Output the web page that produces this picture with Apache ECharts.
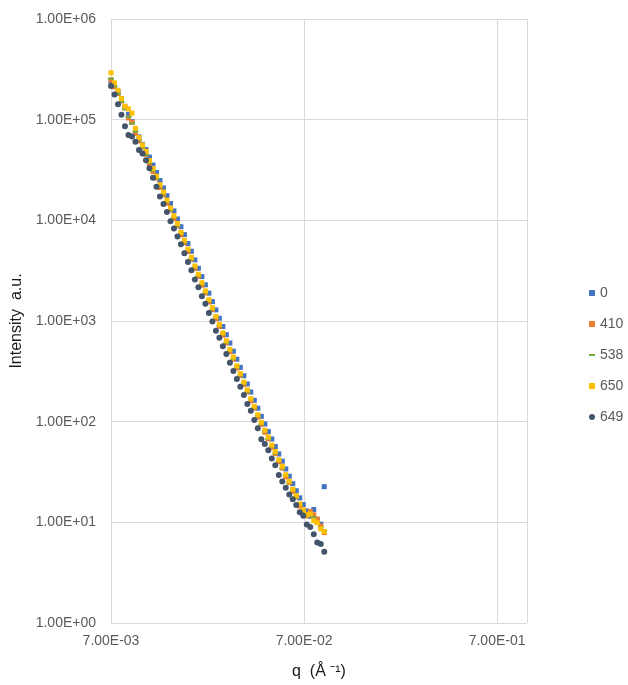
<!DOCTYPE html>
<html>
<head>
<meta charset="utf-8">
<script src="https://cdn.jsdelivr.net/npm/echarts@6/dist/echarts.min.js"></script>
<style>
  html, body { margin: 0; padding: 0; background: #fff; }
  #main { width: 628px; height: 685px; }
</style>
</head>
<body>
<div id="main"></div>
<script>
// q grid (1/Å), shared by all runs
const qValues = [
  0.00700, 0.00730, 0.00761, 0.00793, 0.00827, 0.00862, 0.00899, 0.00937, 0.00977, 0.01019,
  0.01062, 0.01107, 0.01155, 0.01204, 0.01255, 0.01309, 0.01364, 0.01423, 0.01483, 0.01546,
  0.01612, 0.01680, 0.01752, 0.01826, 0.01904, 0.01985, 0.02070, 0.02158, 0.02250, 0.02346,
  0.02446, 0.02549, 0.02658, 0.02771, 0.02889, 0.03012, 0.03140, 0.03274, 0.03414, 0.03559,
  0.03710, 0.03868, 0.04033, 0.04205, 0.04384, 0.04571, 0.04765, 0.04968, 0.05180, 0.05401,
  0.05629, 0.05869, 0.06119, 0.06380, 0.06652, 0.06935, 0.07230, 0.07538, 0.07859, 0.08194,
  0.08543, 0.08907
]

// intensity per run
const int0 = [
  240000, 226000, 190000, 162000, 134000, 113000, 95500, 80000, 67500, 56800,
  50500, 42500, 35400, 29900, 24900, 21000, 17600, 14700, 12400, 10300,
  8640, 7210, 5890, 4930, 4050, 3340, 2760, 2290, 1890, 1560,
  1290, 1065, 882, 731, 604, 501, 417, 346, 286, 237,
  197, 163, 136, 113, 94.9, 79.7, 67.3, 56.6, 47.8, 40.5,
  33.9, 28.7, 24.2, 20.6, 17.5, 15.0, 13.0, 11.5, 13.4, 10.6,
  9.6, 22.6
]
const int410 = [
  248000, 212000, 182000, 153000, 131000, 104000, 94000, 73000, 61500, 53500,
  45200, 36000, 30500, 26300, 21200, 18100, 14800, 12700, 10400, 8850,
  7180, 6010, 4900, 4110, 3330, 2790, 2270, 1905, 1545, 1296,
  1055, 884, 724, 608, 497, 419, 341, 288, 235, 198,
  161, 136.5, 111, 94.2, 78.4, 67.5, 55.9, 48.3, 40.0, 34.6,
  28.3, 24.8, 20.3, 17.9, 14.5, 12.9, 11.6, 12.8, 11.9, 10.8,
  9.2, 7.9
]
const int538 = [
  256000, 214000, 180000, 150000, 127000, 106000, 91500, 76000, 63000, 53000,
  44500, 37200, 31000, 25900, 21600, 18000, 15200, 12600, 10600, 8800,
  7300, 6020, 4980, 4080, 3380, 2800, 2300, 1900, 1570, 1300,
  1070, 890, 735, 606, 503, 418, 346, 287, 238, 197,
  164, 136, 113, 94.0, 79.5, 67.0, 56.7, 48.0, 40.6, 34.3,
  29.0, 24.6, 20.8, 17.6, 14.9, 12.7, 11.4, 11.9, 11.2, 9.8,
  8.9, 8.3
]
const int650 = [
  292000, 232000, 196000, 162000, 136000, 128000, 116000, 82000, 66500, 56000,
  48600, 39200, 32800, 27400, 22600, 19100, 15900, 13300, 11100, 9300,
  7600, 6320, 5180, 4300, 3520, 2920, 2400, 1990, 1630, 1360,
  1110, 925, 762, 636, 522, 439, 358, 301, 247, 207,
  169, 142, 117, 98.5, 82.4, 70.2, 58.6, 50.4, 41.9, 36.0,
  29.7, 25.6, 21.3, 18.4, 15.2, 13.3, 11.9, 12.1, 10.4, 9.9,
  8.6, 8.1
]
const int649 = [
  216000, 178000, 142000, 112000, 86000, 70500, 68000, 60500, 50000, 46000,
  39500, 33000, 26500, 21500, 17200, 14500, 12100, 9800, 8300, 6900,
  5800, 4700, 3850, 3200, 2580, 2160, 1760, 1480, 1200, 990,
  800, 680, 560, 470, 385, 318, 266, 222, 184, 150,
  128, 104, 86, 67, 60, 52, 43, 37, 29.5, 25.5,
  22.0, 18.9, 17.0, 14.9, 12.6, 11.6, 9.5, 9.0, 7.6, 6.3,
  6.1, 5.1
]

const seriesNames = ['0', '410', '538', '650', '649']
const seriesValues = [int0, int410, int538, int650, int649]
const seriesColors = ['#4472C4', '#ED7D31', '#70AD47', '#FFC000', '#44546A']

const xTickLabels = ['7.00E-03', '7.00E-02', '7.00E-01']
const yTickLabels = ['1.00E+00', '1.00E+01', '1.00E+02', '1.00E+03', '1.00E+04', '1.00E+05', '1.00E+06']

// x axis runs from 0.007 to 1 in decades counted from 0.007
const Q_MIN = 0.007
const Q_MAX = 1
const xSpan = Math.log10(Q_MAX / Q_MIN)

const dashIcon = 'path://M0,0H6V2H0Z'
const symbols = ['rect', 'rect', 'rect', 'rect', 'circle']
const symbolSizes = [5, 5, [6, 2], 5, 6]
const legendIcons = ['rect', 'rect', dashIcon, 'rect', 'circle']

let myChart = echarts.init(document.getElementById('main'))
let option = {
  animation: false,
  grid: { left: 111, right: 101, top: 19, bottom: 58 },
  legend: {
    orient: 'vertical',
    left: 584,
    top: 281,
    itemWidth: 6,
    itemHeight: 6,
    itemGap: 17,
    textStyle: { fontFamily: 'Liberation Sans', fontSize: 14, color: '#595959' },
    data: seriesNames.map((n, i) => ({ name: n, icon: legendIcons[i] })),
  },
  xAxis: {
    type: 'value',
    min: 0,
    max: xSpan,
    interval: 1,
    axisLine: { show: false },
    axisTick: { show: false },
    splitLine: { show: true, lineStyle: { color: '#D9D9D9', width: 1 } },
    axisLabel: {
      margin: 11,
      fontFamily: 'Liberation Sans',
      fontSize: 14,
      color: '#595959',
      formatter: v => (Math.abs(v - Math.round(v)) < 1e-6 ? xTickLabels[Math.round(v)] : ''),
    },
    name: 'q  (Å ⁻¹)',
    nameLocation: 'middle',
    nameGap: 41,
    nameTextStyle: { fontFamily: 'Liberation Sans', fontSize: 16, color: '#1a1a1a' },
  },
  yAxis: {
    type: 'log',
    logBase: 10,
    min: 1,
    max: 1e6,
    axisLine: { show: false },
    axisTick: { show: false },
    splitLine: { show: true, lineStyle: { color: '#D9D9D9', width: 1 } },
    axisLabel: {
      margin: 15,
      fontFamily: 'Liberation Sans',
      fontSize: 14,
      color: '#595959',
      formatter: v => yTickLabels[Math.round(Math.log10(v))],
    },
    name: 'Intensity  a.u.',
    nameLocation: 'middle',
    nameGap: 84,
    nameTextStyle: { fontFamily: 'Liberation Sans', fontSize: 16, color: '#1a1a1a' },
  },
  series: seriesNames.map((n, i) => ({
    name: n,
    type: 'scatter',
    symbol: symbols[i],
    symbolSize: symbolSizes[i],
    itemStyle: { color: seriesColors[i], opacity: 1 },
    data: qValues.map((q, k) => [Math.log10(q / Q_MIN), seriesValues[i][k]]),
  })),
}
myChart.setOption(option) // 绘制画布
</script>
</body>
</html>
